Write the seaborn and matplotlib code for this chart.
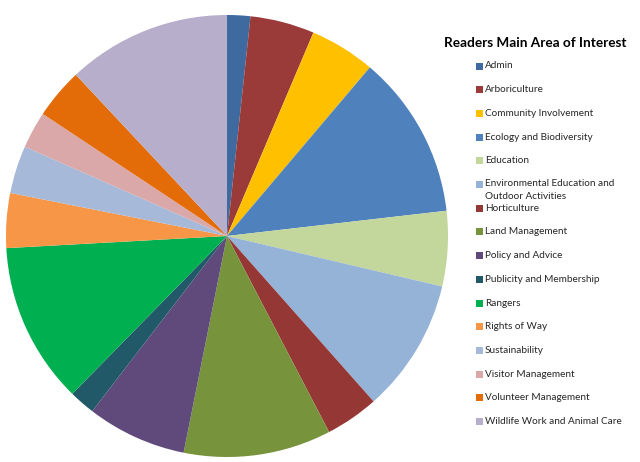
import matplotlib.pyplot as plt
import seaborn as sns
from matplotlib.patches import Rectangle

sns.set_style('white')
plt.rcParams['font.family'] = ['Lato', 'DejaVu Sans']

# Data (share of readers in percent)
areas = ['Admin', 'Arboriculture', 'Community Involvement', 'Ecology and Biodiversity',
         'Education', 'Environmental Education and\nOutdoor Activities', 'Horticulture',
         'Land Management', 'Policy and Advice', 'Publicity and Membership', 'Rangers',
         'Rights of Way', 'Sustainability', 'Visitor Management', 'Volunteer Management',
         'Wildlife Work and Animal Care']
shares = [1.7, 4.7, 4.8, 12.0, 5.5, 9.8, 3.9, 10.8, 7.3, 1.9, 11.8, 4.0, 3.5, 2.7, 3.7, 12.0]
colors = ['#3E6AA0', '#9A3B3A', '#FFC000', '#4F81BD', '#C3D69B', '#95B3D7', '#953735',
          '#77933C', '#604A7B', '#215968', '#00B050', '#F79646', '#A7B9D8', '#DAA8A8',
          '#E36C09', '#B7AECB']

fig = plt.figure(figsize=(6.4, 4.62), dpi=100)
ax = fig.add_axes([6 / 640, 5 / 462, 442 / 640, 442 / 462])
ax.pie(shares, colors=colors, startangle=90, counterclock=False,
       wedgeprops={'linewidth': 0})
ax.set_xlim(-1, 1)
ax.set_ylim(-1, 1)
ax.set_aspect('equal')
ax.axis('off')

# Title and legend
fig.text(535 / 640, 1 - 43 / 462, 'Readers Main Area of Interest', ha='center', va='center',
         fontsize=9.8, fontweight='bold', color='#000000')

y0 = 66
step = 23.7
for i, (name, col) in enumerate(zip(areas, colors)):
    y = y0 + i * step
    fig.patches.append(Rectangle((476 / 640, 1 - (y + 3.5) / 462), 7 / 640, 7 / 462,
                                 transform=fig.transFigure, facecolor=col, edgecolor='none'))
    if '\n' in name:
        fig.text(485 / 640, 1 - (y - 5.5) / 462, name, ha='left', va='top',
                 fontsize=7.2, color='#262626', linespacing=1.6)
    else:
        fig.text(485 / 640, 1 - y / 462, name, ha='left', va='center',
                 fontsize=7.2, color='#262626')

fig.savefig('out.png', dpi=100)
